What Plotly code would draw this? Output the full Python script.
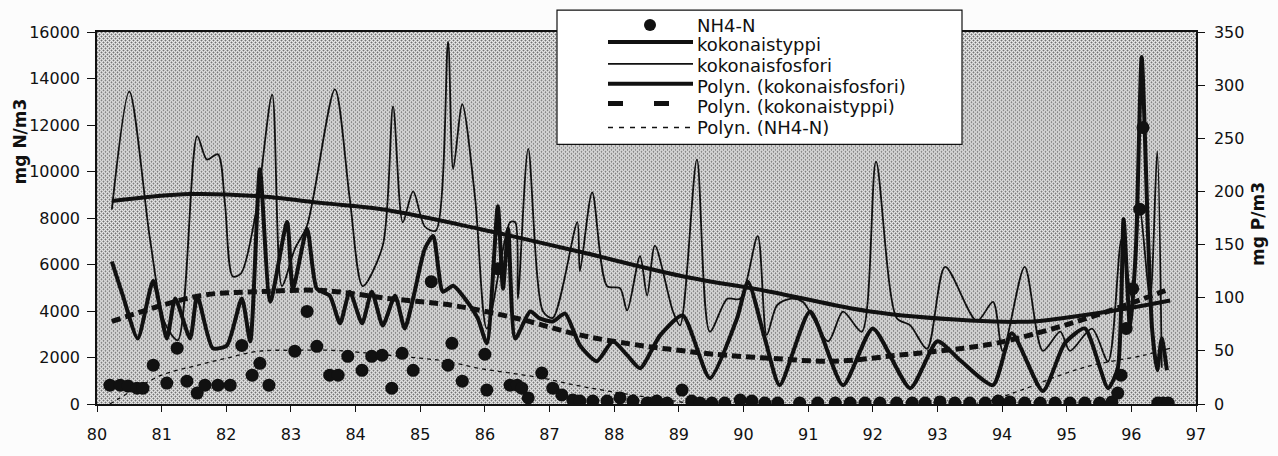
import base64
import struct
import zlib

import plotly.graph_objects as go

# ---------------- data ----------------
# NH4-N, mg N/m3 (left axis)
nh4_year = [80.20, 80.36, 80.48, 80.62, 80.71, 80.87, 81.08, 81.24, 81.39, 81.55,
            81.67, 81.87, 82.06, 82.24, 82.40, 82.52, 82.66, 83.06, 83.25, 83.40,
            83.60, 83.73, 83.88, 84.10, 84.25, 84.41, 84.56, 84.72, 84.89, 85.17,
            85.43, 85.49, 85.65, 86.00, 86.03, 86.20, 86.39, 86.50, 86.57, 86.67,
            86.88, 87.05, 87.19, 87.36, 87.47, 87.67, 87.89, 88.09, 88.29, 88.51,
            88.66, 88.82, 89.05, 89.20, 89.33, 89.51, 89.71, 89.95, 90.13, 90.33,
            90.53, 90.87, 91.15, 91.42, 91.65, 91.88, 92.11, 92.37, 92.61, 92.81,
            93.04, 93.27, 93.50, 93.74, 93.94, 94.12, 94.35, 94.59, 94.82, 95.05,
            95.28, 95.51, 95.70, 95.79, 95.84, 95.92, 96.02, 96.13, 96.18, 96.41,
            96.49, 96.57]
nh4_val = [810, 810, 770, 680, 680, 1670, 900, 2400, 980, 470,
           810, 810, 810, 2520, 1240, 1750, 810, 2270, 3980, 2480,
           1240, 1240, 2050, 1450, 2050, 2100, 680, 2180, 1450, 5260,
           1670, 2610, 980, 2140, 600, 5820, 810, 810, 680, 260,
           1330, 680, 390, 170, 130, 130, 130, 260, 130, 40,
           130, 40, 600, 130, 40, 40, 40, 170, 130, 40,
           40, 40, 40, 40, 40, 40, 40, 40, 40, 40,
           90, 40, 40, 40, 130, 90, 40, 40, 40, 40,
           40, 40, 90, 470, 1240, 3250, 4960, 8380, 11890, 40,
           40, 40]

# kokonaistyppi, mg N/m3 (left axis)
tn_year = [80.23, 80.40, 80.63, 80.87, 81.08, 81.21, 81.44, 81.55, 81.79, 82.01,
           82.24, 82.37, 82.52, 82.68, 82.94, 83.03, 83.25, 83.40, 83.60, 83.76,
           83.91, 84.10, 84.25, 84.42, 84.61, 84.76, 84.89, 85.07, 85.20, 85.35,
           85.51, 85.69, 85.89, 86.03, 86.20, 86.28, 86.36, 86.47, 86.70, 86.85,
           87.05, 87.24, 87.47, 87.73, 87.98, 88.20, 88.40, 88.71, 89.06, 89.48,
           89.90, 90.07, 90.33, 90.56, 91.03, 91.54, 92.00, 92.58, 93.00, 93.35,
           93.86, 94.15, 94.63, 94.97, 95.28, 95.64, 95.79, 95.88, 95.98, 96.07,
           96.16, 96.26, 96.32, 96.40, 96.47, 96.55]
tn_val = [6120, 4660, 2820, 5300, 2820, 4540, 2820, 4660, 2400, 2520,
          4540, 2700, 10100, 4400, 7830, 4960, 7530, 4960, 4660, 3470,
          4830, 3470, 4830, 3380, 4660, 3250, 4540, 6670, 7230, 4830,
          5090, 4540, 3680, 2610, 8510, 4960, 7530, 2820, 3980, 3680,
          3550, 3890, 2520, 1840, 2700, 2100, 1540, 2950, 3810, 1110,
          3680, 5260, 2820, 810, 3980, 810, 3250, 680, 2700, 1880,
          810, 3040, 560, 2610, 3250, 680, 1540, 7960, 3250, 6670,
          14930, 7100, 3250, 1450, 2820, 1450]

# kokonaisfosfori, mg P/m3 (right axis)
tp_year = [80.23, 80.50, 80.82, 81.05, 81.25, 81.55, 81.70, 81.87, 81.98, 82.10,
           82.23, 82.46, 82.71, 82.86, 83.06, 83.25, 83.68, 83.91, 84.11, 84.42,
           84.58, 84.73, 84.89, 85.07, 85.24, 85.43, 85.51, 85.65, 85.85, 86.03,
           86.39, 86.47, 86.51, 86.67, 86.90, 87.05, 87.43, 87.47, 87.66, 87.89,
           88.09, 88.20, 88.40, 88.51, 88.63, 88.91, 89.02, 89.28, 89.48, 89.75,
           89.95, 90.22, 90.36, 90.52, 90.72, 90.92, 91.31, 91.54, 91.83, 92.05,
           92.37, 92.58, 92.84, 93.12, 93.61, 93.86, 94.01, 94.35, 94.63, 94.90,
           95.05, 95.39, 95.64, 95.85, 96.01, 96.13, 96.29, 96.40, 96.47]
tp_val = [183, 294, 155, 76, 60, 252, 230, 235, 188, 120,
          123, 181, 291, 111, 146, 168, 296, 193, 111, 149,
          280, 171, 200, 167, 163, 341, 221, 282, 193, 71,
          171, 171, 99, 240, 87, 81, 171, 125, 199, 111,
          109, 88, 139, 102, 149, 87, 74, 230, 68, 99,
          99, 158, 65, 93, 99, 96, 59, 87, 68, 228,
          81, 74, 52, 129, 78, 96, 50, 129, 50, 68,
          50, 71, 40, 155, 99, 183, 99, 238, 34]

# polynomial trend lines
tp_trend_year = [80.23, 81.44, 82.47, 83.50, 84.38, 85.92, 87.47, 89.02, 90.41,
                 91.96, 93.50, 94.40, 94.90, 95.93, 96.60]
tp_trend_val = [191, 197.5, 195.6, 189, 183.4, 164.7, 143.2, 120.7, 105.7,
                87.0, 78.6, 77.5, 80.5, 89.8, 97.3]

tn_trend_year = [80.23, 81.60, 82.50, 83.50, 84.50, 85.50, 86.50, 87.50, 88.50,
                 89.00, 89.50, 90.40, 91.40, 92.40, 93.40, 93.90, 94.70, 95.45,
                 96.20, 96.60]
tn_trend_val = [3550, 4660, 4830, 4880, 4540, 4240, 3680, 2950, 2480,
                2310, 2150, 1970, 1840, 2100, 2400, 2610, 3170, 3810,
                4540, 4960]

nh4_trend_year = [80.20, 80.50, 81.00, 81.50, 82.00, 82.50, 83.10, 83.70, 84.50,
                  85.00, 85.40, 85.90, 86.40, 86.90, 87.40, 87.90, 88.50, 89.00,
                  89.50, 90.50, 91.50, 92.50, 93.30, 93.70, 94.30, 94.90, 95.40,
                  96.20, 96.60]
nh4_trend_val = [0, 500, 1240, 1630, 1970, 2270, 2310, 2300, 2100,
                 1970, 1840, 1540, 1330, 1110, 810, 560, 300, 100,
                 -100, -300, -400, -300, -100, 50, 600, 1240, 1670,
                 2100, 2400]

year_ticks = list(range(80, 98))

legend_names = ["NH4-N", "kokonaistyppi", "kokonaisfosfori",
                "Polyn. (kokonaisfosfori)", "Polyn. (kokonaistyppi)",
                "Polyn. (NH4-N)"]

# ---------------- figure ----------------
W, H = 1278, 456
ML, MR, MT, MB = 97, 82, 32, 50
PW, PH = W - ML - MR, H - MT - MB

FONT = "DejaVu Sans"
INK = "#111111"


def stipple_png(w, h):
    """Grey halftone dot texture used as the plot-area fill."""
    tile = [[110, 180, 232, 180],
            [180, 232, 180, 232],
            [232, 180, 110, 180],
            [180, 232, 180, 232]]
    raw = bytearray()
    for y in range(h):
        raw.append(0)
        row = tile[y % 4]
        raw.extend(row[x % 4] for x in range(w))

    def chunk(tag, data):
        c = struct.pack(">I", len(data)) + tag + data
        return c + struct.pack(">I", zlib.crc32(tag + data) & 0xFFFFFFFF)

    png = b"\x89PNG\r\n\x1a\n"
    png += chunk(b"IHDR", struct.pack(">IIBBBBB", w, h, 8, 0, 0, 0, 0))
    png += chunk(b"IDAT", zlib.compress(bytes(raw), 9))
    png += chunk(b"IEND", b"")
    return "data:image/png;base64," + base64.b64encode(png).decode()


fig = go.Figure()

fig.add_trace(go.Scatter(
    x=tn_year, y=tn_val, name=legend_names[1], mode="lines",
    line=dict(color=INK, width=4, shape="spline", smoothing=0.6),
    yaxis="y"))
fig.add_trace(go.Scatter(
    x=tn_trend_year, y=tn_trend_val, name=legend_names[4], mode="lines",
    line=dict(color=INK, width=5, dash="9px,5px", shape="spline"),
    yaxis="y"))
fig.add_trace(go.Scatter(
    x=nh4_trend_year, y=nh4_trend_val, name=legend_names[5], mode="lines",
    line=dict(color=INK, width=1.3, dash="4px,4px", shape="spline"),
    yaxis="y"))
fig.add_trace(go.Scatter(
    x=nh4_year, y=nh4_val, name=legend_names[0], mode="markers",
    marker=dict(color=INK, size=13, line=dict(width=0)),
    yaxis="y"))
fig.add_trace(go.Scatter(
    x=tp_year, y=tp_val, name=legend_names[2], mode="lines",
    line=dict(color=INK, width=1.8, shape="spline", smoothing=0.8),
    yaxis="y2"))
fig.add_trace(go.Scatter(
    x=tp_trend_year, y=tp_trend_val, name=legend_names[3], mode="lines",
    line=dict(color=INK, width=4, shape="spline"),
    yaxis="y2"))


def px_x(px):
    return (px - ML) / PW


def px_y(py):
    return (H - MB - py) / PH


# legend box with sample symbols
shapes = [dict(type="rect", xref="paper", yref="paper",
               x0=px_x(557), x1=px_x(962), y0=px_y(145), y1=px_y(10),
               fillcolor="white", line=dict(color=INK, width=1.2), layer="above")]
annotations = []
rows = [25, 45, 66, 87, 107, 128]
sx0, sx1 = 608, 693
shapes.append(dict(type="circle", xref="paper", yref="paper",
                   x0=px_x(644), x1=px_x(656), y0=px_y(rows[0] + 6), y1=px_y(rows[0] - 6),
                   fillcolor=INK, line=dict(width=0), layer="above"))
shapes.append(dict(type="line", xref="paper", yref="paper",
                   x0=px_x(sx0), x1=px_x(sx1), y0=px_y(rows[1] - 3), y1=px_y(rows[1] - 3),
                   line=dict(color=INK, width=4), layer="above"))
shapes.append(dict(type="line", xref="paper", yref="paper",
                   x0=px_x(sx0), x1=px_x(sx1), y0=px_y(rows[2] - 2), y1=px_y(rows[2] - 2),
                   line=dict(color=INK, width=1.8), layer="above"))
shapes.append(dict(type="line", xref="paper", yref="paper",
                   x0=px_x(sx0), x1=px_x(sx1), y0=px_y(rows[3] - 3), y1=px_y(rows[3] - 3),
                   line=dict(color=INK, width=4), layer="above"))
shapes.append(dict(type="line", xref="paper", yref="paper",
                   x0=px_x(sx0), x1=px_x(sx1), y0=px_y(rows[4] - 3), y1=px_y(rows[4] - 3),
                   line=dict(color=INK, width=5, dash="15px,31px"), layer="above"))
shapes.append(dict(type="line", xref="paper", yref="paper",
                   x0=px_x(sx0), x1=px_x(sx1), y0=px_y(rows[5]), y1=px_y(rows[5]),
                   line=dict(color=INK, width=1.3, dash="5px,6px"), layer="above"))
for name, ry in zip(legend_names, rows):
    annotations.append(dict(
        xref="paper", yref="paper", x=px_x(695), y=px_y(ry),
        text=name, showarrow=False, xanchor="left", yanchor="middle",
        font=dict(family=FONT, size=18, color=INK)))

# axis titles
annotations.append(dict(
    xref="paper", yref="paper", x=px_x(20), y=px_y(142), text="mg N/m3",
    showarrow=False, textangle=-90, xanchor="center", yanchor="middle",
    font=dict(family=FONT, size=17, color=INK, weight="bold")))
annotations.append(dict(
    xref="paper", yref="paper", x=px_x(1258), y=px_y(225), text="mg P/m3",
    showarrow=False, textangle=-90, xanchor="center", yanchor="middle",
    font=dict(family=FONT, size=17, color=INK, weight="bold")))

tick_font = dict(family=FONT, size=16, color=INK)

fig.update_layout(
    width=W, height=H,
    margin=dict(l=ML, r=MR, t=MT, b=MB, pad=0),
    paper_bgcolor="#fcfcfc",
    plot_bgcolor="rgba(0,0,0,0)",
    showlegend=False,
    shapes=shapes,
    annotations=annotations,
    images=[dict(source=stipple_png(PW, PH), xref="paper", yref="paper",
                 x=0, y=1, sizex=1, sizey=1, sizing="stretch",
                 xanchor="left", yanchor="top", layer="below")],
    xaxis=dict(range=[80, 97], tickvals=year_ticks, ticktext=[str(v) for v in year_ticks],
               showgrid=False, zeroline=False, showline=True, linecolor=INK, linewidth=1.5,
               mirror=True, ticks="outside", ticklen=6, tickcolor=INK, tickwidth=1.2,
               tickfont=tick_font, ticklabelstandoff=9),
    yaxis=dict(range=[0, 16000], dtick=2000, tickformat="d", showgrid=False,
               zeroline=False, showline=True, linecolor=INK, linewidth=1.5,
               ticks="outside", ticklen=8, tickcolor=INK, tickwidth=1.2,
               tickfont=tick_font, ticklabelstandoff=4),
    yaxis2=dict(range=[0, 350], dtick=50, overlaying="y", side="right",
                showgrid=False, zeroline=False, showline=True, linecolor=INK,
                linewidth=1.5, ticks="outside", ticklen=7, tickcolor=INK,
                tickwidth=1.2, tickfont=tick_font, ticklabelstandoff=6),
)

fig.write_html("out.html")
